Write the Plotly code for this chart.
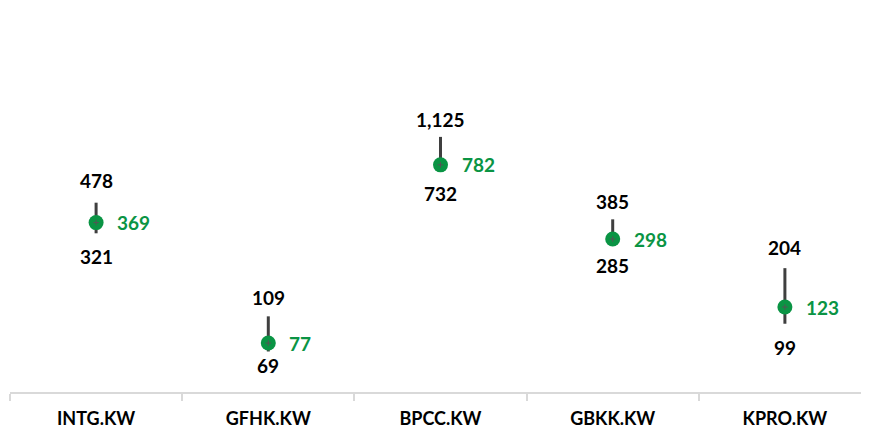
import math
import plotly.graph_objects as go

tickers = ["INTG.KW", "GFHK.KW", "BPCC.KW", "GBKK.KW", "KPRO.KW"]
high_vals = [478, 109, 1125, 385, 204]
low_vals = [321, 69, 732, 285, 99]
current_vals = [369, 77, 782, 298, 123]

GREEN = "#0A9444"
DARK = "#3F3F3F"
FONT = "Lato"
low_label_shift = [-23, -14, -24, -23, -24]
high_label_shift = [22, 19, 17, 18, 21]

fig = go.Figure()

lx, ly = [], []
for t, lo, hi in zip(tickers, low_vals, high_vals):
    lx += [t, t, None]
    ly += [lo, hi, None]
fig.add_trace(go.Scatter(x=lx, y=ly, mode="lines",
                         line=dict(color=DARK, width=3), hoverinfo="skip",
                         showlegend=False))

fig.add_trace(go.Scatter(x=tickers, y=current_vals, mode="markers",
                         marker=dict(color=GREEN, size=15, symbol="circle",
                                     line=dict(width=0)),
                         showlegend=False))
fig.add_trace(go.Scatter(x=tickers, y=current_vals, mode="markers",
                         marker=dict(color=DARK, size=4, symbol="cross-thin",
                                     line=dict(width=1, color="#555555")),
                         showlegend=False))

def fmt(v):
    return f"{v:,}"

anns = []
for i, (t, lo, hi, cur) in enumerate(zip(tickers, low_vals, high_vals, current_vals)):
    anns.append(dict(x=t, y=math.log10(hi), text=f"<b>{fmt(hi)}</b>", showarrow=False,
                     yshift=high_label_shift[i], font=dict(family=FONT, size=19, color="#000000")))
    anns.append(dict(x=t, y=math.log10(lo), text=f"<b>{fmt(lo)}</b>", showarrow=False,
                     yshift=low_label_shift[i], font=dict(family=FONT, size=19, color="#000000")))
    anns.append(dict(x=t, y=math.log10(cur), text=f"<b>{fmt(cur)}</b>", showarrow=False,
                     xanchor="left", xshift=19, font=dict(family=FONT, size=19, color=GREEN)))

fig.update_layout(
    width=869, height=430,
    margin=dict(l=2, r=6, t=2, b=46),
    plot_bgcolor="white", paper_bgcolor="white",
    annotations=anns,
    showlegend=False,
)
fig.update_xaxes(type="category", range=[-0.5, 4.5], showline=True, linecolor="#D9D9D9",
                 linewidth=2, ticks="outside", tickson="boundaries", ticklen=7,
                 tickcolor="#D9D9D9", tickwidth=2, showgrid=False, zeroline=False,
                 ticklabelstandoff=9,
                 tickfont=dict(family=FONT, size=18, color="#000000"),
                 tickvals=tickers, ticktext=[f"<b>{t}</b>" for t in tickers])
fig.update_yaxes(type="log", range=[1.61, 3.768], showgrid=False, zeroline=False,
                 showticklabels=False, showline=False)

fig.write_html("out.html")
